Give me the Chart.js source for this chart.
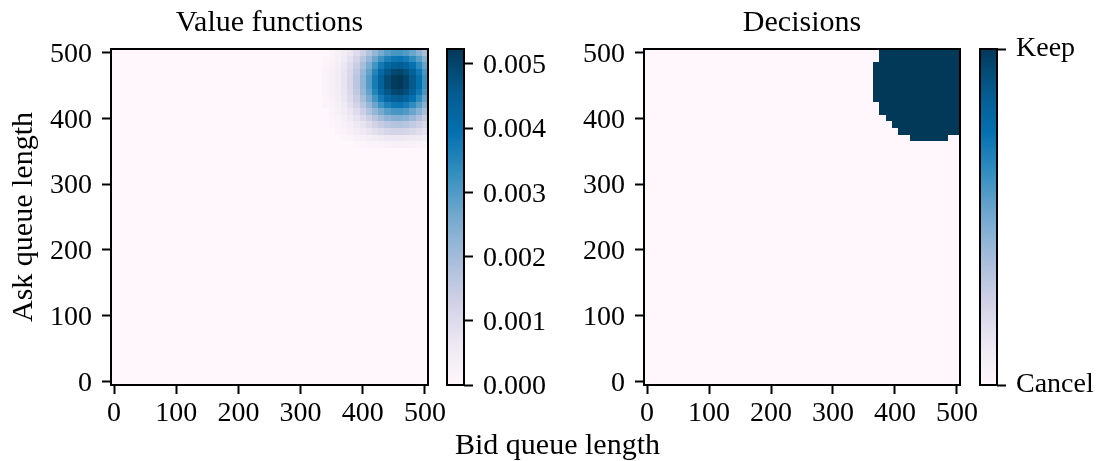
<!DOCTYPE html>
<html>
<head>
<meta charset="utf-8">
<script src="https://cdn.jsdelivr.net/npm/chart.js"></script>
<style>
html, body { margin: 0; padding: 0; background: #ffffff; }
body { width: 1105px; height: 461px; position: relative; overflow: hidden; }
canvas { position: absolute; }
</style>
</head>
<body>
<canvas id="supLabel"></canvas>
<canvas id="valueMap"></canvas>
<canvas id="valueBar"></canvas>
<canvas id="decisionMap"></canvas>
<canvas id="decisionBar"></canvas>
<script>
// ---------------- data ----------------
const bidLevels = [0,10,20,30,40,50,60,70,80,90,100,110,120,130,140,150,160,170,180,190,200,
  210,220,230,240,250,260,270,280,290,300,310,320,330,340,350,360,370,380,390,400,
  410,420,430,440,450,460,470,480,490,500];
const askLevels = [0,10,20,30,40,50,60,70,80,90,100,110,120,130,140,150,160,170,180,190,200,
  210,220,230,240,250,260,270,280,290,300,310,320,330,340,350,360,370,380,390,400,
  410,420,430,440,450,460,470,480,490,500];
const axisTicks = [0, 100, 200, 300, 400, 500];
const valueTicks = [0, 0.001, 0.002, 0.003, 0.004, 0.005];
const decisionTicks = [0, 1];
const decisionTickLabels = ['Cancel', 'Keep'];

// value function: non-zero block (units of 1e-5); every other cell is 0
const blobBid = [340,350,360,370,380,390,400,410,420,430,440,450,460,470,480,490,500];
const blobAsk = [500,490,480,470,460,450,440,430,420,410,400,390,380,370,360,350,340];
const blobValuesE5 = [
  [0,16,28,44,68,98,135,177,220,259,290,309,312,299,273,236,194],
  [11,20,34,54,83,121,166,217,270,319,357,380,384,368,335,290,239],
  [13,23,40,64,97,141,194,254,315,372,417,443,448,430,392,339,279],
  [15,26,44,70,108,156,215,281,350,412,462,492,497,477,434,376,309],
  [15,27,46,74,113,164,227,296,368,434,487,518,523,502,457,396,325],
  [15,27,46,74,113,164,227,296,368,434,487,518,523,502,457,396,325],
  [15,26,44,70,108,156,215,281,350,412,462,492,497,477,434,376,309],
  [13,23,40,64,97,141,194,254,315,372,417,443,448,430,392,339,279],
  [11,20,34,54,83,121,166,217,270,319,357,380,384,368,335,290,239],
  [0,16,28,44,68,98,135,177,220,259,290,309,312,299,273,236,194],
  [0,13,21,34,52,76,104,137,170,200,224,238,241,231,211,182,150],
  [0,9,16,25,38,56,77,100,124,147,164,175,177,170,155,134,110],
  [0,0,11,17,27,39,53,70,87,102,115,122,123,118,108,93,77],
  [0,0,0,10,14,21,28,37,46,54,61,65,65,62,57,50,41],
  [0,0,0,0,0,8,11,15,18,21,24,26,26,25,23,20,16],
  [0,0,0,0,0,0,0,0,0,0,0,0,0,0,0,0,0],
  [0,0,0,0,0,0,0,0,0,0,0,0,0,0,0,0,0]
];

// decisions: rows (ask level) where "Keep" holds, from/to bid level (inclusive)
const keepAsk     = [500,490,480,470,460,450,440,430,420,410,400,390,380,370];
const keepBidFrom = [380,380,370,370,370,370,370,370,380,380,390,400,410,430];
const keepBidTo   = [500,500,500,500,500,500,500,500,500,500,500,500,500,480];

// ---------------- helpers ----------------
const FONT = "'Liberation Serif', 'Times New Roman', Times, serif";
Chart.defaults.font.family = FONT;
Chart.defaults.color = '#000000';

const PUBU = ['#fff7fb','#ece7f2','#d0d1e6','#a6bddb','#74a9cf','#3690c0','#0570b0','#045a8d','#023858'];
function hexRgb(h) { return [1,3,5].map(i => parseInt(h.substr(i, 2), 16)); }
const PUBU_RGB = PUBU.map(hexRgb);
function pubu(t) {
  t = Math.max(0, Math.min(1, t));
  const s = t * (PUBU_RGB.length - 1);
  const i = Math.min(Math.floor(s), PUBU_RGB.length - 2);
  const f = s - i;
  const a = PUBU_RGB[i], b = PUBU_RGB[i + 1];
  const c = a.map((v, k) => Math.round(v + (b[k] - v) * f));
  return `rgb(${c[0]},${c[1]},${c[2]})`;
}

const VALUE_UNIT = 1e-5;
const valueCells = [];
for (const a of askLevels) {
  for (const b of bidLevels) {
    const r = blobAsk.indexOf(a), c = blobBid.indexOf(b);
    const v = (r >= 0 && c >= 0) ? blobValuesE5[r][c] * VALUE_UNIT : 0;
    valueCells.push({ x: b, y: a, v: v });
  }
}
const valueMax = Math.max(...valueCells.map(p => p.v));

const decisionCells = [];
for (const a of askLevels) {
  const r = keepAsk.indexOf(a);
  for (const b of bidLevels) {
    const keep = r >= 0 && b >= keepBidFrom[r] && b <= keepBidTo[r];
    decisionCells.push({ x: b, y: a, v: keep ? 1 : 0 });
  }
}

const halfX = (bidLevels[1] - bidLevels[0]) / 2;
const halfY = (askLevels[1] - askLevels[0]) / 2;
const xMin = bidLevels[0] - halfX, xMax = bidLevels[bidLevels.length - 1] + halfX;
const yMin = askLevels[0] - halfY, yMax = askLevels[askLevels.length - 1] + halfY;

function setupCanvas(id, left, top, w, h) {
  const c = document.getElementById(id);
  c.width = w; c.height = h;
  c.style.left = left + 'px'; c.style.top = top + 'px';
  c.style.width = w + 'px'; c.style.height = h + 'px';
  return c;
}

const framePlugin = {
  id: 'frame',
  afterDraw(chart) {
    const { ctx, chartArea: a } = chart;
    ctx.save();
    ctx.strokeStyle = '#000000';
    ctx.lineWidth = 2;
    ctx.strokeRect(a.left, a.top, a.right - a.left, a.bottom - a.top);
    ctx.restore();
  }
};

const heatPlugin = {
  id: 'heat',
  beforeDatasetsDraw(chart, args, opts) {
    const { ctx, chartArea: a, scales } = chart;
    const xs = scales.x, ys = scales.y;
    const data = chart.data.datasets[0].data;
    ctx.save();
    ctx.beginPath();
    ctx.rect(a.left, a.top, a.right - a.left, a.bottom - a.top);
    ctx.clip();
    for (const p of data) {
      const x0 = Math.round(xs.getPixelForValue(p.x - halfX));
      const x1 = Math.round(xs.getPixelForValue(p.x + halfX));
      const y0 = Math.round(ys.getPixelForValue(p.y - halfY));
      const y1 = Math.round(ys.getPixelForValue(p.y + halfY));
      ctx.fillStyle = pubu((p.v - opts.vmin) / (opts.vmax - opts.vmin));
      ctx.fillRect(x0, y1, x1 - x0, y0 - y1);
    }
    ctx.restore();
  }
};

const tickGrid = { drawOnChartArea: false, drawTicks: true, tickLength: 9, tickWidth: 2, tickColor: '#000000' };
const tickFont = { family: FONT, size: 28, lineHeight: 1.2 };
const labelFont = { family: FONT, size: 30, weight: 'normal', lineHeight: 1.2 };

function heatmapConfig(cells, vmax, title, yTitle, yAxisWidth) {
  return {
    type: 'scatter',
    data: { datasets: [{ data: cells, pointRadius: 0, pointHoverRadius: 0, showLine: false }] },
    options: {
      responsive: false, animation: false, devicePixelRatio: 1, events: [],
      layout: { padding: { left: 0, right: 30, top: 0, bottom: 0 } },
      scales: {
        x: {
          type: 'linear', min: xMin, max: xMax,
          afterBuildTicks: s => { s.ticks = axisTicks.map(v => ({ value: v })); },
          afterFit: s => { s.height = 76; },
          grid: tickGrid, border: { display: false },
          ticks: { font: tickFont, padding: 3, maxRotation: 0, autoSkip: false, color: '#000000' }
        },
        y: {
          type: 'linear', min: yMin, max: yMax,
          afterBuildTicks: s => { s.ticks = axisTicks.map(v => ({ value: v })); },
          afterFit: s => { s.width = yAxisWidth; },
          grid: tickGrid, border: { display: false },
          ticks: { font: tickFont, padding: 10, labelOffset: 2, autoSkip: false, color: '#000000' },
          title: yTitle ? { display: true, text: yTitle, font: labelFont, color: '#000000', padding: { top: 6, bottom: 0 } } : { display: false }
        }
      },
      plugins: {
        legend: { display: false },
        tooltip: { enabled: false },
        title: { display: true, text: title, fullSize: false, font: labelFont, color: '#000000', padding: { top: 5, bottom: 8 } },
        heat: { vmin: 0, vmax: vmax }
      }
    },
    plugins: [heatPlugin, framePlugin]
  };
}

function colorbarConfig(vmax, ticks, labelFn, labelOffset, padLeft, axisWidth) {
  return {
    type: 'bar',
    data: {
      labels: ['scale'],
      datasets: [{
        data: [[0, vmax]],
        borderWidth: 0,
        barPercentage: 1, categoryPercentage: 1,
        backgroundColor: (ctx) => {
          const a = ctx.chart.chartArea;
          if (!a) return PUBU[0];
          const g = ctx.chart.ctx.createLinearGradient(0, a.bottom, 0, a.top);
          PUBU.forEach((c, i) => g.addColorStop(i / (PUBU.length - 1), c));
          return g;
        }
      }]
    },
    options: {
      responsive: false, animation: false, devicePixelRatio: 1, events: [],
      layout: { padding: { left: padLeft, right: 0, top: 49, bottom: 76 } },
      scales: {
        x: { type: 'category', display: false },
        y: {
          type: 'linear', position: 'right', min: 0, max: vmax,
          afterBuildTicks: s => { s.ticks = ticks.map(v => ({ value: v })); },
          afterFit: s => { s.width = axisWidth; },
          grid: tickGrid, border: { display: false },
          ticks: { font: tickFont, padding: 10, labelOffset: labelOffset, autoSkip: false, color: '#000000', callback: labelFn }
        }
      },
      plugins: { legend: { display: false }, tooltip: { enabled: false } }
    },
    plugins: [framePlugin]
  };
}

// ---------------- charts ----------------
new Chart(setupCanvas('supLabel', 0, 0, 1105, 461), {
  type: 'scatter',
  data: { datasets: [] },
  options: {
    responsive: false, animation: false, devicePixelRatio: 1, events: [],
    layout: { padding: { left: 10, right: 0, top: 0, bottom: 0 } },
    scales: { x: { display: false }, y: { display: false } },
    plugins: {
      legend: { display: false }, tooltip: { enabled: false },
      title: { display: true, position: 'bottom', text: 'Bid queue length',
               font: { family: FONT, size: 30, weight: 'normal', lineHeight: 1.0 },
               color: '#000000', padding: { top: 0, bottom: 0 } }
    }
  }
});

new Chart(setupCanvas('valueMap', 0, 0, 458, 461),
  heatmapConfig(valueCells, valueMax, 'Value functions', 'Ask queue length', 111));

new Chart(setupCanvas('valueBar', 430, 0, 140, 461),
  colorbarConfig(valueMax, valueTicks, v => Number(v).toFixed(3), 2, 17, 106));

new Chart(setupCanvas('decisionMap', 540, 0, 450, 461),
  heatmapConfig(decisionCells, 1, 'Decisions', null, 104));

new Chart(setupCanvas('decisionBar', 960, 0, 145, 461),
  colorbarConfig(1, decisionTicks, (v) => decisionTickLabels[decisionTicks.indexOf(v)], 0, 20, 108));
</script>
</body>
</html>
